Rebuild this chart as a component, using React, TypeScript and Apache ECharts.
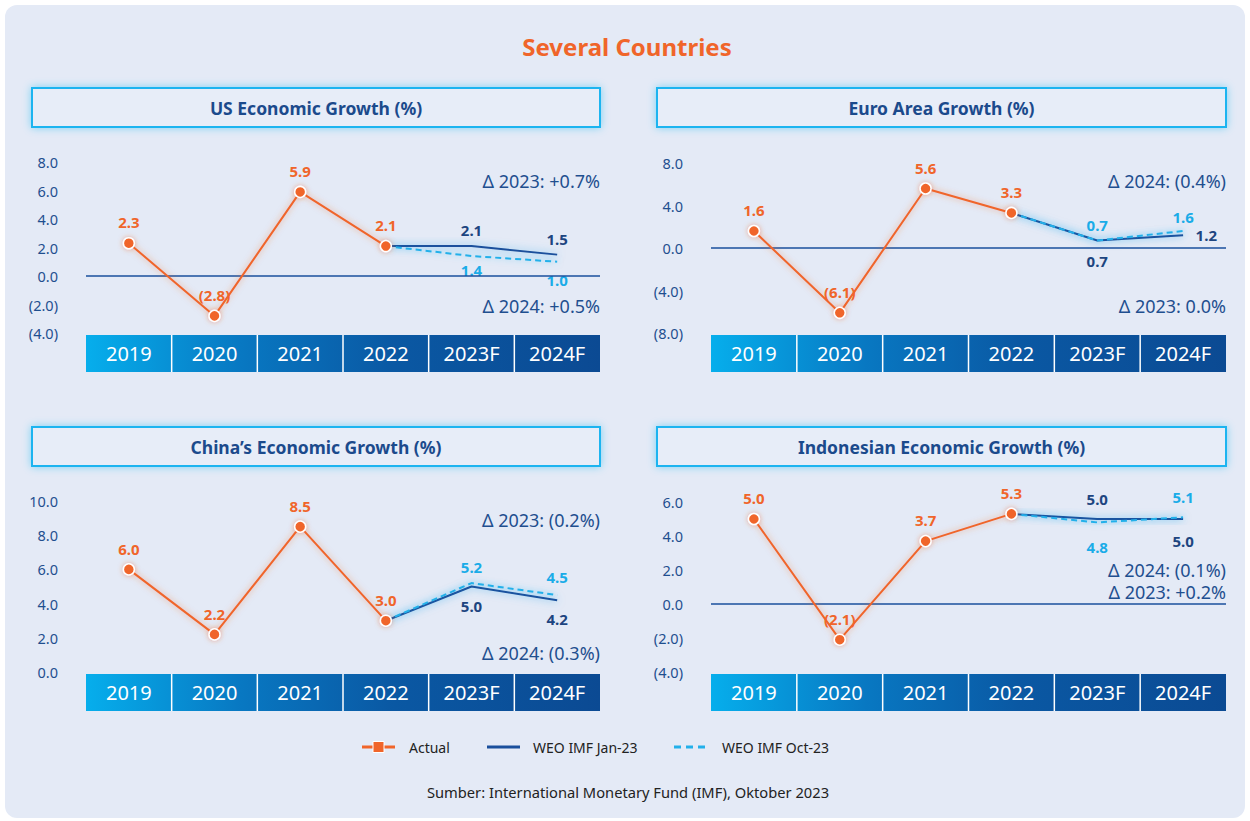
import React, { useEffect, useRef } from "react";
import * as echarts from "echarts";

// ---------- DATA ----------
const categories = ["2019", "2020", "2021", "2022", "2023F", "2024F"];

const usActual = [2.3, -2.8, 5.9, 2.1];
const usJan23 = [2.1, 2.1, 1.5]; // 2022, 2023F, 2024F
const usOct23 = [2.1, 1.4, 1.0];
const usRange = [-4, 8, 2];
const usDeltas = ["\u0394 2023: +0.7%", "\u0394 2024: +0.5%"];

const euroActual = [1.6, -6.1, 5.6, 3.3];
const euroJan23 = [3.3, 0.7, 1.2];
const euroOct23 = [3.3, 0.7, 1.6];
const euroRange = [-8, 8, 4];
const euroDeltas = ["\u0394 2024: (0.4%)", "\u0394 2023: 0.0%"];

const chinaActual = [6.0, 2.2, 8.5, 3.0];
const chinaJan23 = [3.0, 5.0, 4.2];
const chinaOct23 = [3.0, 5.2, 4.5];
const chinaRange = [0, 10, 2];
const chinaDeltas = ["\u0394 2023: (0.2%)", "\u0394 2024: (0.3%)"];

const idnActual = [5.0, -2.1, 3.7, 5.3];
const idnJan23 = [5.3, 5.0, 5.0];
const idnOct23 = [5.3, 4.8, 5.1];
const idnRange = [-4, 6, 2];
const idnDeltas = ["\u0394 2024: (0.1%)", "\u0394 2023: +0.2%"];

const legendNames = ["Actual", "WEO IMF Jan-23", "WEO IMF Oct-23"];
const mainTitle = "Several Countries";
const sourceText = "Sumber: International Monetary Fund (IMF), Oktober 2023";

// ---------- STYLE / LAYOUT ----------
const ORANGE = "#f0652a";
const NAVY = "#1a4f9c";
const NAVY_TXT = "#1d4580";
const LIGHT = "#22b0ea";
const AXIS_TXT = "#1f4f8f";
const BG = "#e4eaf6";
const FONT = "'Noto Sans', 'Open Sans', sans-serif";

type LabelCfg = [string, number];

const panels = [
  {
    title: "US Economic Growth (%)", actual: usActual, jan: usJan23, oct: usOct23, range: usRange, deltas: usDeltas,
    left: 86, right: 600, top: 162, bottom: 333, headerX: 32, headerW: 568, headerY: 88, deltaY: [181, 306],
    janLabel: [["top", 8], ["top", 8]] as LabelCfg[], octLabel: [["bottom", 6], ["bottom", 10]] as LabelCfg[],
  },
  {
    title: "Euro Area Growth (%)", actual: euroActual, jan: euroJan23, oct: euroOct23, range: euroRange, deltas: euroDeltas,
    left: 711, right: 1226, top: 163, bottom: 333, headerX: 657, headerW: 569, headerY: 88, deltaY: [181, 306],
    janLabel: [["bottom", 12], ["right", 12]] as LabelCfg[], octLabel: [["top", 8], ["top", 6]] as LabelCfg[],
  },
  {
    title: "China\u2019s Economic Growth (%)", actual: chinaActual, jan: chinaJan23, oct: chinaOct23, range: chinaRange, deltas: chinaDeltas,
    left: 86, right: 600, top: 501, bottom: 672, headerX: 32, headerW: 568, headerY: 427, deltaY: [520, 653],
    janLabel: [["bottom", 11], ["bottom", 11]] as LabelCfg[], octLabel: [["top", 8], ["top", 10]] as LabelCfg[],
  },
  {
    title: "Indonesian Economic Growth (%)", actual: idnActual, jan: idnJan23, oct: idnOct23, range: idnRange, deltas: idnDeltas,
    left: 711, right: 1226, top: 502, bottom: 672, headerX: 657, headerW: 569, headerY: 427, deltaY: [570, 592],
    janLabel: [["top", 12], ["bottom", 14]] as LabelCfg[], octLabel: [["bottom", 17], ["top", 12]] as LabelCfg[],
  },
];

const fmt = (v: number) => (v < 0 ? `(${Math.abs(v).toFixed(1)})` : v.toFixed(1));

function buildOption() {
  const grid: any[] = [];
  const xAxis: any[] = [];
  const yAxis: any[] = [];
  const series: any[] = [];
  const graphic: any[] = [];

  graphic.push({
    type: "rect", z: 0, silent: true,
    shape: { x: 5, y: 5, width: 1240, height: 813, r: 12 },
    style: { fill: BG },
  });
  graphic.push({
    type: "text", z: 3, silent: true, x: 627, y: 46,
    style: { text: mainTitle, fill: ORANGE, font: `bold 24px ${FONT}`, align: "center", verticalAlign: "middle", textAlign: "center", textVerticalAlign: "middle" },
  });

  panels.forEach((p, i) => {
    const width = p.right - p.left;
    grid.push({ left: p.left, top: p.top, width, height: p.bottom - p.top, containLabel: false });
    xAxis.push({
      type: "category", gridIndex: i, data: categories, boundaryGap: true, z: 6,
      axisLine: { show: false }, axisTick: { show: false }, splitLine: { show: false },
      axisLabel: { color: "#ffffff", fontSize: 20, fontFamily: FONT, margin: 10 },
    });
    yAxis.push({
      type: "value", gridIndex: i, min: p.range[0], max: p.range[1], interval: p.range[2],
      axisLine: { show: false }, axisTick: { show: false }, splitLine: { show: false },
      axisLabel: { color: AXIS_TXT, fontSize: 14.5, fontFamily: FONT, margin: 28, formatter: (v: number) => fmt(v) },
    });

    const actualData = [...p.actual, ...new Array(categories.length - p.actual.length).fill(null)];
    const actualSeries: any = {
      type: "line", name: legendNames[0], xAxisIndex: i, yAxisIndex: i, z: 5,
      data: actualData, symbol: "circle", symbolSize: 11, connectNulls: false,
      lineStyle: { color: ORANGE, width: 2, shadowColor: "rgba(240,101,42,0.55)", shadowBlur: 6 },
      itemStyle: { color: ORANGE, borderColor: "#ffffff", borderWidth: 1.5, shadowColor: "rgba(240,101,42,0.5)", shadowBlur: 5 },
      label: {
        show: true, position: "top", distance: 7, color: ORANGE, fontSize: 15, fontWeight: "bold", fontFamily: FONT,
        formatter: (pp: any) => fmt(pp.value),
      },
    };
    if (p.range[0] < 0) {
      actualSeries.markLine = {
        silent: true, symbol: ["none", "none"], label: { show: false },
        lineStyle: { color: NAVY, width: 1.5, type: "solid" },
        data: [{ yAxis: 0 }],
      };
    }
    series.push(actualSeries);

    const startIdx = p.actual.length - 1;
    const mkForecast = (vals: number[], cfg: LabelCfg[]) => {
      const arr: any[] = new Array(startIdx).fill(null);
      vals.forEach((v, k) => {
        if (k === 0) arr.push({ value: v, label: { show: false } });
        else arr.push({ value: v, label: { show: true, position: cfg[k - 1][0], distance: cfg[k - 1][1] } });
      });
      return arr;
    };

    series.push({
      type: "line", name: legendNames[1], xAxisIndex: i, yAxisIndex: i, z: 3,
      data: mkForecast(p.jan, p.janLabel), symbol: "circle", symbolSize: 1,
      lineStyle: { color: NAVY, width: 2, shadowColor: "rgba(20,150,230,0.6)", shadowBlur: 8 },
      itemStyle: { color: "rgba(0,0,0,0)" },
      label: { show: true, color: NAVY_TXT, fontSize: 15, fontWeight: "bold", fontFamily: FONT, formatter: (pp: any) => fmt(pp.value) },
    });
    series.push({
      type: "line", name: legendNames[2], xAxisIndex: i, yAxisIndex: i, z: 4,
      data: mkForecast(p.oct, p.octLabel), symbol: "circle", symbolSize: 1,
      lineStyle: { color: LIGHT, width: 2, type: [6, 4], shadowColor: "rgba(40,180,240,0.5)", shadowBlur: 6 },
      itemStyle: { color: "rgba(0,0,0,0)" },
      label: { show: true, color: "#1aace8", fontSize: 15, fontWeight: "bold", fontFamily: FONT, formatter: (pp: any) => fmt(pp.value) },
    });

    // header box
    graphic.push({
      type: "rect", z: 1, silent: true,
      shape: { x: p.headerX, y: p.headerY, width: p.headerW, height: 39 },
      style: { fill: "#e7edf8", stroke: "#1cb4f0", lineWidth: 2, shadowBlur: 8, shadowColor: "rgba(28,180,240,0.45)" },
    });
    graphic.push({
      type: "text", z: 3, silent: true, x: p.headerX + p.headerW / 2, y: p.headerY + 20,
      style: { text: p.title, fill: "#1b4a8c", font: `bold 17.5px ${FONT}`, align: "center", verticalAlign: "middle", textAlign: "center", textVerticalAlign: "middle" },
    });

    // category band
    const bandY = p.bottom + 2;
    graphic.push({
      type: "rect", z: 1, silent: true,
      shape: { x: p.left, y: bandY, width, height: 37 },
      style: {
        fill: new echarts.graphic.LinearGradient(0, 0, 1, 0, [
          { offset: 0, color: "#06aeec" },
          { offset: 0.3, color: "#0878c2" },
          { offset: 0.6, color: "#0a58a3" },
          { offset: 1, color: "#0b4a93" },
        ]),
      },
    });
    for (let k = 1; k < categories.length; k++) {
      const x = p.left + (width * k) / categories.length;
      graphic.push({
        type: "line", z: 2, silent: true,
        shape: { x1: x, y1: bandY, x2: x, y2: bandY + 37 },
        style: { stroke: "#ffffff", lineWidth: 1.5 },
      });
    }

    // delta notes
    p.deltas.forEach((t, k) => {
      graphic.push({
        type: "text", z: 3, silent: true, x: p.right, y: p.deltaY[k],
        style: { text: t, fill: AXIS_TXT, font: `18px ${FONT}`, align: "right", verticalAlign: "middle", textAlign: "right", textVerticalAlign: "middle" },
      });
    });
  });

  // legend
  const ly = 747;
  const textStyle = (x: number, text: string) => ({
    type: "text", z: 3, silent: true, x, y: ly,
    style: { text, fill: "#222222", font: `14px ${FONT}`, align: "left", verticalAlign: "middle", textAlign: "left", textVerticalAlign: "middle" },
  });
  graphic.push({ type: "line", z: 3, silent: true, shape: { x1: 362, y1: ly, x2: 395, y2: ly }, style: { stroke: ORANGE, lineWidth: 3 } });
  graphic.push({ type: "rect", z: 4, silent: true, shape: { x: 373, y: ly - 5.5, width: 11, height: 11 }, style: { fill: ORANGE, stroke: "#ffffff", lineWidth: 1 } });
  graphic.push(textStyle(409, legendNames[0]));
  graphic.push({ type: "line", z: 3, silent: true, shape: { x1: 487, y1: ly, x2: 520, y2: ly }, style: { stroke: NAVY, lineWidth: 3 } });
  graphic.push(textStyle(533, legendNames[1]));
  graphic.push({ type: "line", z: 3, silent: true, shape: { x1: 674, y1: ly, x2: 708, y2: ly }, style: { stroke: LIGHT, lineWidth: 3, lineDash: [7, 5] } });
  graphic.push(textStyle(722, legendNames[2]));

  graphic.push({
    type: "text", z: 3, silent: true, x: 628, y: 792,
    style: { text: sourceText, fill: "#222222", font: `14.7px ${FONT}`, align: "center", verticalAlign: "middle", textAlign: "center", textVerticalAlign: "middle" },
  });

  return {
    animation: false,
    backgroundColor: "#ffffff",
    textStyle: { fontFamily: FONT },
    grid, xAxis, yAxis, series, graphic,
  };
}

export default function App() {
  const ref = useRef<HTMLDivElement>(null);
  useEffect(() => {
    document.body.style.margin = "0";
    if (!ref.current) return;
    const chart = echarts.init(ref.current, undefined, { renderer: "svg" });
    chart.setOption(buildOption() as any);
    return () => chart.dispose();
  }, []);
  return <div ref={ref} style={{ width: 1250, height: 821 }} />;
}
